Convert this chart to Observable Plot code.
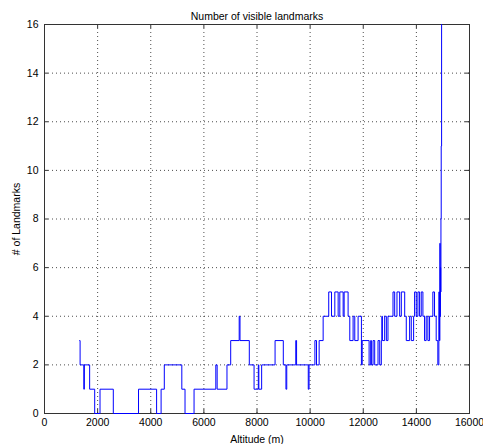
<!DOCTYPE html>
<html><head><meta charset="utf-8">
<script src="https://cdn.jsdelivr.net/npm/d3@7"></script>
<script src="https://cdn.jsdelivr.net/npm/@observablehq/plot@0.6"></script>
<style>body{margin:0;background:#fff;font-family:"Liberation Sans",Arial,sans-serif}</style>
</head><body><div id="chart"></div>
<script>
const title = "Number of visible landmarks";
const xLabel = "Altitude (m)";
const yLabel = "# of Landmarks";
const xTicks = [0,2000,4000,6000,8000,10000,12000,14000,16000];
const yTicks = [0,2,4,6,8,10,12,14,16];
const altitude = [1325,1340,1480,1500,1700,1890,2090,2590,3540,4220,4390,4510,5170,5290,5630,6450,6500,6870,7010,7330,7360,7710,7890,8050,8070,8175,8680,8990,9090,9120,9460,9490,9930,9960,10180,10240,10340,10490,10700,10805,10930,11055,11118,11243,11280,11430,11493,11618,11681,11806,11931,11960,12220,12280,12306,12370,12431,12556,12620,12680,12700,12720,12806,12870,12931,13120,13183,13270,13370,13433,13560,13620,13746,13808,13896,13933,13996,14058,14121,14183,14246,14308,14370,14433,14496,14620,14683,14746,14808,14846,14870,14885,14895,14905,14915,14925,14935,14950,14965];
const landmarks = [3,2,1,2,1,0,1,0,1,0,1,2,1,0,1,2,1,2,3,4,3,2,1,2,1,2,3,2,1,2,3,2,1,2,3,2,3,4,5,4,5,4,5,4,5,4,3,4,3,4,2,3,2,3,2,3,2,3,2,3,4,3,4,3,4,5,4,5,4,5,4,3,4,3,4,5,4,5,4,5,4,3,4,3,4,5,4,3,2,5,3,7,4,6,5,8,11,16,16];
const data = altitude.map((a,i)=>({a, n: landmarks[i]}));
const fmt = d => String(d);
const tickLen = 4;
const plot = Plot.plot({
  width: 483, height: 444,
  marginLeft: 44, marginRight: 14, marginTop: 24, marginBottom: 31,
  style: {fontFamily: '"Liberation Sans",Arial,sans-serif', fontSize: "10.5px", color: "#000", background: "#fff"},
  x: {domain: [0,16000]},
  y: {domain: [0,16]},
  marks: [
    Plot.gridX(xTicks, {stroke: "#000", strokeOpacity: 0.7, strokeDasharray: "1,3"}),
    Plot.gridY(yTicks, {stroke: "#000", strokeOpacity: 0.7, strokeDasharray: "1,3"}),
    Plot.axisX(xTicks, {anchor: "bottom", tickSize: 0, tickPadding: 5, tickFormat: fmt, label: xLabel, labelAnchor: "center", labelArrow: "none", labelOffset: 29}),
    Plot.axisY(yTicks, {anchor: "left", tickSize: 0, tickPadding: 6, tickFormat: fmt, label: yLabel, labelAnchor: "center", labelArrow: "none", labelOffset: 32}),
    Plot.tickX(xTicks, {x: d => d, insetTop: 389 - tickLen, stroke: "#333"}),
    Plot.tickX(xTicks, {x: d => d, insetBottom: 389 - tickLen, stroke: "#333"}),
    Plot.tickY(yTicks, {y: d => d, insetRight: 425 - tickLen, stroke: "#333"}),
    Plot.tickY(yTicks, {y: d => d, insetLeft: 425 - tickLen, stroke: "#333"}),
    Plot.frame({stroke: "#333"}),
    Plot.line(data, {x: "a", y: "n", curve: "step-after", stroke: "#0000ff", strokeWidth: 1}),
    Plot.text([title], {frameAnchor: "top", dy: -12, fontSize: 10.5, fill: "#000"})
  ]
});
document.getElementById("chart").appendChild(plot);
</script></body></html>
